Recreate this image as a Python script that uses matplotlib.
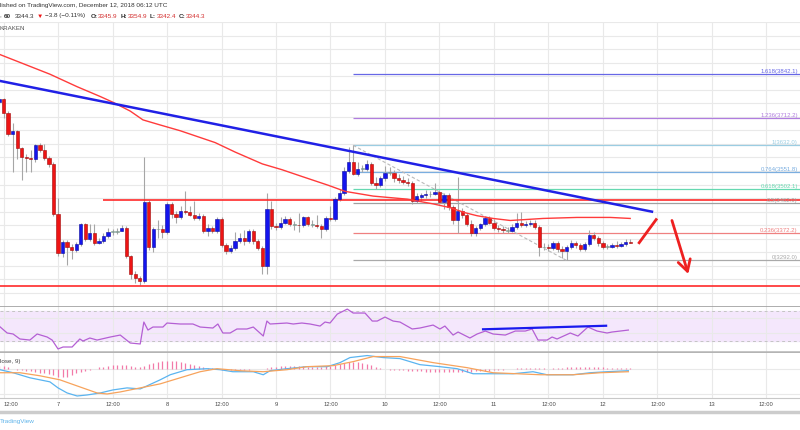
"""BTCUSD 1h (Kraken) snapshot: candles, fib levels, RSI and MACD panes."""
import matplotlib.pyplot as plt
import numpy as np
from matplotlib.lines import Line2D

plt.rcParams['font.family'] = ['Liberation Sans', 'DejaVu Sans']

# hours are counted from Dec 7 00:00 UTC; first visible candle is Dec 6 11:00
FIRST_HOUR = -13

opens = [3761, 3770, 3727, 3664, 3675, 3623, 3597, 3594, 3592, 3632, 3617, 3594, 3577,
         3430, 3315, 3347, 3332, 3324, 3341, 3399, 3355, 3373, 3344, 3350, 3364, 3376,
         3377, 3378, 3387, 3304, 3252, 3240, 3232, 3465, 3332, 3384, 3385, 3376, 3459,
         3430, 3419, 3439, 3436, 3427, 3416, 3424, 3378, 3387, 3378, 3413, 3338, 3321,
         3329, 3350, 3358, 3350, 3378, 3350, 3329, 3275, 3445, 3393, 3390, 3404, 3413,
         3399, 3398, 3396, 3419, 3399, 3398, 3393, 3384, 3416, 3413, 3473, 3491, 3557,
         3583, 3548, 3563, 3562, 3577, 3520, 3514, 3534, 3551, 3550, 3534, 3531, 3525,
         3522, 3468, 3478, 3484, 3488, 3487, 3494, 3465, 3485, 3450, 3410, 3439, 3427,
         3401, 3373, 3387, 3399, 3416, 3404, 3387, 3384, 3381, 3380, 3390, 3404, 3396,
         3399, 3404, 3390, 3332, 3331, 3329, 3344, 3327, 3321, 3332, 3344, 3338, 3327,
         3341, 3367, 3358, 3344, 3332, 3333, 3338, 3336, 3342, 3345.9]
highs = [3776, 3773, 3733, 3698, 3678, 3626, 3606, 3617, 3635, 3638, 3635, 3600, 3583,
         3476, 3352, 3352, 3341, 3347, 3404, 3404, 3399, 3399, 3358, 3373, 3387, 3384,
         3387, 3396, 3393, 3309, 3260, 3246, 3597, 3471, 3390, 3410, 3396, 3465, 3465,
         3439, 3453, 3496, 3453, 3468, 3433, 3430, 3399, 3393, 3419, 3419, 3344, 3338,
         3376, 3373, 3381, 3384, 3384, 3355, 3335, 3491, 3468, 3404, 3419, 3424, 3419,
         3407, 3433, 3424, 3424, 3410, 3427, 3399, 3422, 3453, 3479, 3502, 3568, 3626,
         3632, 3583, 3574, 3589, 3583, 3537, 3540, 3571, 3568, 3560, 3548, 3540, 3534,
         3528, 3491, 3491, 3499, 3496, 3520, 3499, 3491, 3491, 3456, 3537, 3448, 3433,
         3410, 3393, 3404, 3422, 3422, 3413, 3396, 3393, 3390, 3399, 3433, 3436, 3407,
         3410, 3410, 3396, 3344, 3341, 3350, 3350, 3335, 3338, 3352, 3350, 3344, 3347,
         3381, 3376, 3364, 3350, 3341, 3344, 3350, 3347, 3355, 3354.9]
lows = [3756, 3712, 3658, 3554, 3592, 3531, 3554, 3554, 3583, 3612, 3589, 3568, 3424,
        3304, 3301, 3280, 3295, 3318, 3335, 3350, 3350, 3338, 3341, 3344, 3358, 3367,
        3370, 3378, 3298, 3237, 3226, 3219, 3226, 3324, 3318, 3358, 3358, 3370, 3416,
        3404, 3413, 3430, 3422, 3410, 3410, 3373, 3364, 3373, 3373, 3332, 3312, 3315,
        3324, 3344, 3338, 3344, 3341, 3324, 3252, 3252, 3384, 3381, 3384, 3399, 3393,
        3381, 3376, 3390, 3393, 3390, 3387, 3358, 3378, 3407, 3407, 3468, 3485, 3551,
        3543, 3540, 3554, 3557, 3514, 3502, 3508, 3528, 3543, 3525, 3520, 3517, 3511,
        3459, 3462, 3468, 3476, 3479, 3485, 3459, 3445, 3442, 3401, 3373, 3416, 3393,
        3364, 3364, 3381, 3393, 3399, 3381, 3376, 3373, 3373, 3376, 3384, 3390, 3390,
        3393, 3384, 3304, 3324, 3321, 3324, 3318, 3298, 3292, 3327, 3329, 3321, 3321,
        3335, 3352, 3335, 3327, 3327, 3329, 3329, 3332, 3335, 3342.4]
closes = [3770, 3727, 3664, 3675, 3623, 3597, 3594, 3592, 3632, 3617, 3594, 3577, 3430,
          3315, 3347, 3332, 3324, 3341, 3399, 3355, 3373, 3344, 3350, 3364, 3376, 3377,
          3378, 3387, 3304, 3252, 3240, 3232, 3465, 3332, 3384, 3385, 3376, 3459, 3430,
          3419, 3439, 3436, 3427, 3416, 3424, 3378, 3387, 3378, 3413, 3338, 3321, 3329,
          3350, 3358, 3350, 3378, 3350, 3329, 3275, 3445, 3393, 3390, 3404, 3413, 3399,
          3398, 3396, 3419, 3399, 3398, 3393, 3384, 3416, 3413, 3473, 3491, 3557, 3583,
          3548, 3563, 3562, 3577, 3520, 3514, 3534, 3551, 3550, 3534, 3531, 3525, 3522,
          3468, 3482, 3484, 3488, 3487, 3494, 3465, 3485, 3450, 3410, 3439, 3427, 3401,
          3373, 3387, 3399, 3416, 3404, 3387, 3384, 3381, 3380, 3390, 3404, 3396, 3399,
          3404, 3390, 3332, 3331, 3329, 3344, 3327, 3321, 3332, 3344, 3338, 3327, 3341,
          3367, 3358, 3344, 3332, 3333, 3338, 3336, 3342, 3346, 3344.3]

# red moving average (hour, price)
ma_hours = [-12.8, -7.3, -1.8, 4.2, 9.3, 12.1, 15.9, 18.7, 22.5, 26.9, 31.3, 34.6, 39.0,
            45.0, 49.3, 53.7, 59.5, 63.2, 69.4, 76.9, 82.6, 86.3, 89.6, 92.3, 95.8, 99.6,
            103.3, 106.8, 114.3, 121.6, 126.0]
ma_values = [3900, 3871, 3842, 3805, 3776, 3759, 3733, 3707, 3692, 3675, 3655, 3640, 3612,
             3577, 3560, 3540, 3514, 3496, 3482, 3473, 3459, 3448, 3433, 3424, 3416, 3410,
             3413, 3416, 3419, 3419, 3416]

trend_hours = [-12.78, 130.8]
trend_prices = [3822, 3436]

resistance = 3470
support = 3218

fib_ratios = ['0', '0.236', '0.5', '0.618', '0.764', '1', '1.236', '1.618']
fib_levels = [3292.0, 3372.2, 3462.0, 3502.1, 3551.8, 3632.0, 3712.2, 3842.1]
fib_colors = ['#a9a9a9', '#ef8080', '#a0a0a0', '#66d8b0', '#7aaee0', '#9bcde2', '#b07ddf', '#6767e6']
fib_start = 65
fib_swing_hours = [65, 112]
fib_swing_prices = [3632, 3292]

rsi_hours = [-12.8, -11.2, -9.9, -8.4, -6.2, -4.6, -2.4, -1.3, 0.0, 1.1, 3.1, 4.8, 5.5, 7.0,
             8.6, 11.5, 13.7, 15.9, 18.1, 18.9, 19.8, 20.9, 23.1, 24.0, 26.9, 29.7, 31.3,
             34.1, 35.2, 36.3, 37.9, 39.4, 41.6, 43.0, 45.2, 46.0, 46.7, 50.4, 51.8, 53.7,
             55.5, 57.7, 58.8, 59.9, 61.5, 63.7, 65.0, 67.6, 69.2, 70.3, 72.0, 73.8, 75.3,
             78.0, 79.7, 82.6, 84.1, 85.2, 87.0, 88.1, 90.7, 92.3, 94.1, 95.8, 98.5, 100.7,
             102.9, 104.4, 105.7, 107.7, 108.8, 109.9, 112.8, 114.5, 116.7, 118.7, 120.9,
             122.0, 123.8, 125.6]
rsi_values = [48.9, 40.6, 39.3, 32.7, 31.3, 39.3, 35.3, 31.3, 19.5, 22.1, 22.1, 32.7, 30.0,
              34.0, 31.3, 35.3, 37.9, 27.4, 26.1, 55.1, 44.5, 48.5, 48.5, 53.8, 52.5, 52.5,
              48.5, 47.2, 52.5, 40.6, 40.6, 45.9, 45.9, 48.5, 36.6, 56.4, 52.5, 53.8, 52.5,
              53.8, 52.5, 49.8, 55.1, 53.8, 65.6, 72.2, 67.0, 67.0, 56.4, 56.4, 61.7, 56.4,
              55.1, 45.9, 47.2, 51.1, 45.9, 49.8, 37.9, 41.9, 34.0, 39.3, 43.2, 39.3, 37.9,
              43.2, 43.2, 45.9, 31.3, 31.3, 35.3, 32.7, 40.6, 36.6, 48.5, 43.2, 40.6, 41.9,
              43.2, 44.5]
rsi_div_hours = [93.6, 120.7]
rsi_div_values = [45.5, 50.2]

macd_hours = [-12.8, -9.9, -6.2, -4.0, -1.8, 0.0, 2.0, 4.2, 6.4, 9.3, 12.1, 15.2, 18.1, 19.6,
              22.5, 24.7, 28.4, 32.8, 35.7, 38.5, 43.0, 45.2, 46.7, 50.4, 54.8, 59.3, 62.1,
              64.3, 68.1, 71.6, 75.3, 79.7, 84.1, 87.9, 91.4, 95.8, 100.2, 104.6, 107.7,
              113.4, 117.2, 120.9, 125.6]
macd_values = [-2, -8, -18, -22, -26, -38, -48, -54, -52, -48, -42, -38, -40, -34, -22, -12,
               -2, 0, -2, -6, -6, -12, -4, 0, 4, 4, 12, 22, 26, 22, 20, 8, 4, 0, -10, -10,
               -10, -6, -12, -12, -8, -6, -4]
signal_hours = [-12.8, -8.4, -4.0, 0.4, 4.8, 8.6, 10.8, 13.7, 18.1, 22.5, 26.9, 31.3, 35.0,
                40.1, 45.2, 50.4, 54.8, 60.6, 65.0, 69.4, 73.1, 75.3, 82.6, 90.1, 95.8,
                101.1, 106.2, 113.4, 119.4, 125.6]
signal_values = [-8, -8, -14, -22, -36, -48, -50, -46, -38, -30, -18, -6, 0, -4, -6, -2, 4,
                 6, 14, 24, 24, 24, 12, 2, -8, -10, -12, -12, -8, -6]
histogram = [6, 6, 4, 0, -2, -2, -4, -5, -6, -8, -9, -10, -13, -16, -16, -16, -13, -9, -7,
             -5, -2, 0, 3, 4, 6, 7, 8, 8, 8, 6, 4, 4, 6, 9, 11, 13, 15, 16, 16, 15, 14, 12,
             10, 8, 5, 3, 2, 1, -1, -2, -2, -2, -2, -3, -2, -2, -1, 0, -1, 2, 3, 4, 5, 6, 6,
             6, 6, 5, 4, 4, 4, 4, 5, 6, 8, 10, 12, 13, 14, 13, 12, 10, 8, 4, 2, 0, -2, -2, -3,
             -3, -4, -4, -5, -5, -6, -6, -6, -6, -6, -6, -6, -6, -6, -6, -6, -5, -5, -4, -4,
             -3, -2, -2, -1, -1, 1, 1, 1, 1, 2, 2, 1, 0, 1, 2, 2, 3, 3, 3, 3, 3, 4, 4, 3, 3,
             2, 2, 2, 2, 2, 2]

tick_labels = ['12:00', '7', '12:00', '8', '12:00', '9', '12:00', '10', '12:00', '11',
               '12:00', '12', '12:00', '13', '12:00']

BLUE = '#1414ee'
RED = '#ee1414'
GRID = '#e9e9e9'


def style_pane(a):
    a.set_facecolor('white')
    a.set_axisbelow(True)
    a.grid(True, color=GRID, lw=0.8)
    a.tick_params(length=0, labelleft=False, labelbottom=False)
    for s in ('left', 'right', 'top'):
        a.spines[s].set_visible(False)


def main():
    fig = plt.figure(figsize=(8, 4.3), dpi=100)
    ax = fig.add_axes([0, 0.2872, 1, 0.6616])
    ax_rsi = fig.add_axes([0, 0.1814, 1, 0.1047], sharex=ax)
    ax_macd = fig.add_axes([0, 0.0744, 1, 0.1058], sharex=ax)
    for a in (ax, ax_rsi, ax_macd):
        style_pane(a)

    hours = np.arange(FIRST_HOUR, FIRST_HOUR + len(opens))
    o = np.array(opens)
    c = np.array(closes)

    # candles
    ax.vlines(hours, lows, highs, color='#a6a6a6', lw=0.8, zorder=2)
    body = np.maximum(np.abs(c - o), 1.8)
    colors = np.where(np.abs(c - o) < 1.5, '#7f9c92', np.where(c >= o, BLUE, RED))
    edges = np.where(np.abs(c - o) < 1.5, '#7f9c92', np.where(c >= o, '#0a0a9a', '#a00a0a'))
    ax.bar(hours, body, bottom=np.minimum(o, c), width=0.72, color=colors,
           edgecolor=edges, linewidth=0.4, zorder=3)

    # fibonacci retracement (labels pulled in so they stay inside the picture)
    ax.hlines(fib_levels, fib_start, 170, colors=fib_colors, lw=0.9, zorder=1)
    for r, lvl, col in zip(fib_ratios, fib_levels, fib_colors):
        ax.text(162.9, lvl + 1, f'{r}({lvl:.1f})', ha='right', va='bottom',
                fontsize=4.3, color=col, clip_on=False)
    ax.plot(fib_swing_hours, fib_swing_prices, color='#b9b9b9', lw=0.8,
            ls=(0, (3, 2)), zorder=2)

    # drawings
    ax.hlines(resistance, 9.9, 170, color='#ff2a2a', lw=1.2, zorder=2)
    ax.axhline(support, color='#ff2a2a', lw=1.2, zorder=2)
    ax.plot(ma_hours, ma_values, color='#ff3b3b', lw=1.0, zorder=4)
    ax.plot(trend_hours, trend_prices, color='#2020e6', lw=1.8, zorder=5)
    ax.plot([127.8, 131.9], [3341, 3416], color='#ee2020', lw=2, solid_capstyle='butt')
    ax.annotate('', xy=(138.8, 3252), xytext=(135.2, 3410),
                arrowprops=dict(arrowstyle='->,head_length=0.8,head_width=0.45',
                                color='#ee2020', lw=2, shrinkA=0, shrinkB=0))

    ax.set_xlim(-12.78, 163.4)
    ax.set_ylim(3161, 3980)
    ax.set_xticks(np.arange(-12, 160, 12))
    ax.set_yticks(np.arange(3156, 4000, 40))
    ax.spines['bottom'].set_color('#a0a0a0')
    ax.spines['bottom'].set_linewidth(1.2)

    # RSI pane
    ax_rsi.axhspan(30, 70, color='#f4e7fc', zorder=0)
    for lvl in (30, 70):
        ax_rsi.axhline(lvl, color='#c4c4c4', lw=0.7, ls=(0, (3, 3)), zorder=1)
    ax_rsi.plot(rsi_hours, rsi_values, color='#b45fd4', lw=0.9, zorder=3)
    ax_rsi.plot(rsi_div_hours, rsi_div_values, color='#1a1aee', lw=1.6, zorder=4)
    ax_rsi.set_ylim(15.5, 75)
    ax_rsi.set_yticks([40, 60])
    ax_rsi.spines['bottom'].set_color('#b4b4b4')
    ax_rsi.spines['bottom'].set_linewidth(1.8)

    # MACD pane
    ax_macd.vlines(hours, 0, histogram, color='#f27aa8', lw=0.9, zorder=2)
    ax_macd.plot(macd_hours, macd_values, color='#5ab4f0', lw=0.9, zorder=3)
    ax_macd.plot(signal_hours, signal_values, color='#f7a35c', lw=0.9, zorder=3)
    ax_macd.set_ylim(-58, 32)
    ax_macd.set_yticks([-50, 0])
    ax_macd.spines['bottom'].set_color('#c8c8c8')
    ax_macd.spines['bottom'].set_linewidth(0.8)
    ax_macd.tick_params(labelbottom=True, labelsize=4.2, labelcolor='#4a4a4a', pad=3)
    ax_macd.set_xticklabels(tick_labels)
    ax_macd.get_xticklabels()[0].set_ha('left')   # keep the first label inside the edge
    fig.text(0.0, 1 - 361 / 430, 'lose, 9)', fontsize=4.5, color='#444444', va='center')

    # header
    dark = '#333333'
    fig.text(0.0, 1 - 6 / 430, 'lished on TradingView.com, December 12, 2018 06:12 UTC',
             fontsize=4.6, color=dark, va='center')
    pieces = [(', ', dark, 'normal', 0), ('60', dark, 'bold', 0), ('3344.3', dark, 'normal', 3),
              ('\u25bc', RED, 'normal', 1.5), ('\u22123.8 (\u22120.11%)', dark, 'normal', 1.5),
              ('O:', dark, 'bold', 4), ('3345.9', '#d32f2f', 'normal', 0.5),
              ('H:', dark, 'bold', 2), ('3354.9', '#d32f2f', 'normal', 0.5),
              ('L:', dark, 'bold', 2), ('3342.4', '#d32f2f', 'normal', 0.5),
              ('C:', dark, 'bold', 2), ('3344.3', '#d32f2f', 'normal', 0.5)]
    prev = None
    for txt, col, weight, gap in pieces:
        if prev is None:
            prev = fig.text(0.0, 1 - 16 / 430, txt, fontsize=4.6, color=col,
                            weight=weight, va='center')
        else:
            prev = ax.annotate(txt, xy=(1, 0.5), xycoords=prev, xytext=(gap, 0),
                               textcoords='offset points', fontsize=4.6, color=col,
                               weight=weight, va='center', ha='left', annotation_clip=False)
    fig.text(0.0, 1 - 29 / 430, 'KRAKEN', fontsize=4.5, color='#555555', va='center')

    # footer
    fig.add_artist(Line2D([0, 1], [1 - 412 / 430] * 2, transform=fig.transFigure,
                          color='#cccccc', lw=2.5))
    fig.text(0.0, 1 - 421 / 430, 'TradingView', fontsize=4.6, color='#5fb4ea', va='center')

    fig.savefig('out.png', dpi=100, facecolor='white')
    plt.close(fig)


if __name__ == '__main__':
    main()
